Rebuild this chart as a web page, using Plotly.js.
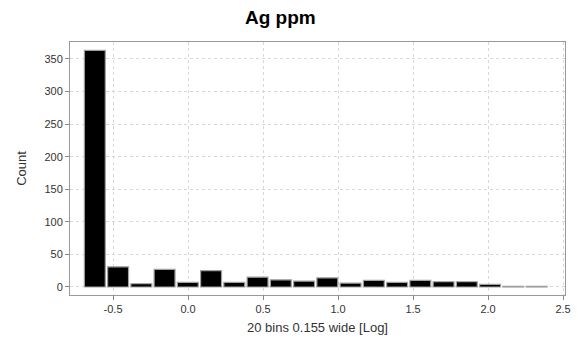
<!DOCTYPE html>
<html>
<head>
<meta charset="utf-8">
<script src="https://cdn.plot.ly/plotly-3.0.1.min.js"></script>
<style>html,body{margin:0;padding:0;background:#fff;}#chart{width:578px;height:343px;}</style>
</head>
<body>
<div id="chart"></div>
<script>
// Histogram of log10(Ag ppm): 20 bins, 0.155 wide
const binStart = -0.699;
const binWidth = 0.155;
const counts = [363, 31, 5, 27, 7, 25, 7, 15, 11, 9, 14, 6, 10, 7, 10, 8, 8, 4, 1, 1];
const xTickVals = [-0.5, 0.0, 0.5, 1.0, 1.5, 2.0, 2.5];
const xTickText = ["-0.5", "0.0", "0.5", "1.0", "1.5", "2.0", "2.5"];
const yTickVals = [0, 50, 100, 150, 200, 250, 300, 350];

const centers = counts.map((c, i) => binStart + binWidth * (i + 0.5));

const trace = {
  type: 'bar',
  x: centers,
  y: counts,
  width: binWidth * 0.9,
  marker: { color: '#000000', line: { color: '#a0a0a0', width: 1.2 } },
  hoverinfo: 'x+y'
};

const font = 'Liberation Sans, Arial, sans-serif';
const layout = {
  width: 578, height: 343,
  margin: { l: 70, r: 13, t: 42, b: 48 },
  paper_bgcolor: '#ffffff',
  plot_bgcolor: '#ffffff',
  showlegend: false,
  font: { family: font, size: 11, color: '#333333' },
  title: { text: '<b>Ag ppm</b>', x: 0.485, xanchor: 'center', y: 0.948, yanchor: 'middle',
           font: { family: font, size: 19, color: '#000000' } },
  xaxis: {
    range: [-0.787, 2.513],
    tickvals: xTickVals, ticktext: xTickText,
    ticks: 'outside', ticklen: 4, tickcolor: '#888888',
    showline: true, linecolor: '#999999', linewidth: 1, mirror: true,
    showgrid: true, gridcolor: '#d8d8d8', griddash: '3px,3px', gridwidth: 1,
    zeroline: false,
    tickfont: { family: font, size: 11, color: '#333333' },
    title: { text: '20 bins 0.155 wide [Log]', standoff: 8, font: { family: font, size: 13, color: '#333333' } }
  },
  yaxis: {
    range: [-12.3, 376],
    tickvals: yTickVals,
    ticks: 'outside', ticklen: 4, tickcolor: '#888888',
    showline: true, linecolor: '#999999', linewidth: 1, mirror: true,
    showgrid: true, gridcolor: '#d8d8d8', griddash: '3px,3px', gridwidth: 1,
    zeroline: false,
    tickfont: { family: font, size: 11, color: '#333333' },
    title: { text: 'Count', standoff: 14, font: { family: font, size: 13, color: '#333333' } }
  }
};

Plotly.newPlot('chart', [trace], layout, { displayModeBar: false, staticPlot: true });
</script>
</body>
</html>
